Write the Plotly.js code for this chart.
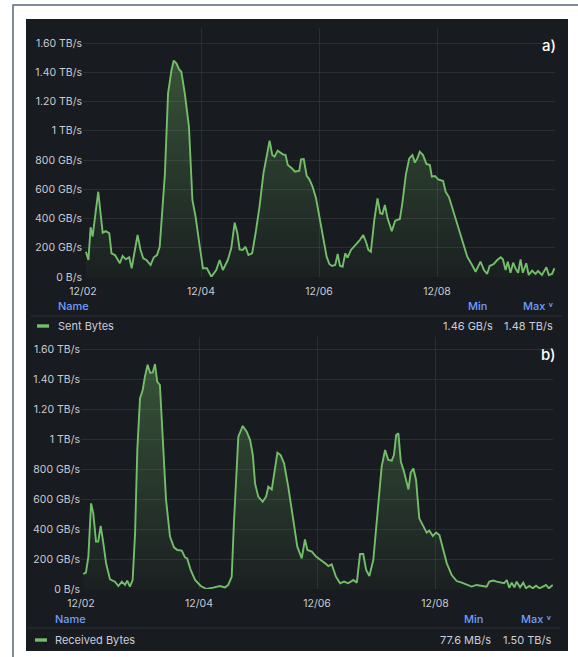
<!DOCTYPE html>
<html>
<head>
<meta charset="utf-8">
<script src="https://cdn.plot.ly/plotly-3.0.1.min.js"></script>
<style>
  html, body { margin: 0; padding: 0; background: #ffffff; }
  #chart { width: 578px; height: 657px; }
</style>
</head>
<body>
<div id="chart"></div>
<script>
// Network throughput over eight days, hours counted from 12/02 00:00, values in GB/s.
const hoursSent = [1.2,2.2,3.1,3.9,6.2,7.2,8.0,9.3,10.7,11.6,
  13.0,15.0,16.1,17.4,18.8,19.8,22.2,23.4,24.5,25.8,
  27.5,28.8,30.1,31.2,32.3,33.3,34.6,36.0,36.9,38.0,
  39.1,40.0,41.4,43.1,44.5,45.8,47.5,48.8,50.4,52.2,
  54.2,55.6,56.9,58.9,60.3,61.7,62.8,63.7,65.0,66.1,
  67.3,68.8,70.2,71.8,73.4,74.8,75.9,77.0,77.9,79.2,
  81.3,82.4,83.3,84.7,86.3,88.0,88.7,89.8,91.0,92.1,
  93.4,94.8,96.4,97.8,99.1,100.2,101.3,102.6,103.6,104.5,
  105.6,106.7,107.6,109.0,110.8,112.4,114.0,115.1,116.1,117.1,
  118.5,119.8,120.9,121.8,122.8,123.9,125.6,127.0,128.9,129.9,
  131.3,132.7,134.0,135.0,136.0,137.0,138.3,139.7,141.1,141.9,
  143.2,144.5,146.5,147.5,148.9,150.5,152.3,154.3,156.3,158.1,
  159.7,161.7,163.1,164.4,165.4,167.1,168.5,169.9,170.8,171.9,
  172.8,173.9,175.0,175.9,177.0,178.0,178.9,180.3,181.3,182.7,
  184.1,185.1,186.7,188.5,189.5,190.8,191.8];
const sentBytes = [173,116,340,276,583,437,303,314,299,162,
  150,94,144,121,135,60,287,185,128,116,
  82,135,150,207,504,700,1256,1415,1480,1461,
  1420,1404,1256,1028,527,412,207,60,60,1.46,
  48,116,48,116,196,371,299,189,185,207,
  150,162,299,481,709,823,932,834,823,864,
  839,834,766,747,720,727,805,807,691,668,
  617,538,390,253,139,89,75,82,157,77,
  70,162,132,185,219,248,287,241,185,173,
  390,538,436,431,492,401,314,385,397,504,
  697,811,834,782,811,857,834,773,766,686,
  691,668,656,583,545,458,367,265,139,87,
  36,105,48,21,75,89,116,135,121,48,
  105,29,98,60,29,121,29,94,14,43,
  21,41,14,66,14,21,60];

const hoursReceived = [0.9,2.0,3.0,4.1,5.0,6.1,7.0,8.0,9.1,10.2,
  11.8,13.8,15.2,16.6,17.9,18.8,19.9,21.0,22.0,22.9,
  24.0,25.1,26.0,27.1,28.1,29.2,30.1,31.0,32.1,33.2,
  34.6,36.2,37.8,39.2,41.0,42.3,43.2,44.6,46.4,48.7,
  51.1,53.8,56.5,58.6,59.9,61.3,62.2,64.0,65.8,67.4,
  68.8,69.9,70.8,72.1,73.9,75.3,76.2,77.6,79.9,81.2,
  82.6,84.3,86.4,88.0,89.8,91.1,92.1,93.9,95.6,97.2,
  99.3,100.6,102.0,103.7,105.4,107.0,108.7,110.8,112.2,113.5,
  114.8,116.0,117.3,118.9,120.5,122.3,123.7,125.0,126.4,127.3,
  128.2,129.1,130.1,131.4,133.2,134.1,135.2,136.3,137.6,139.3,
  140.6,141.7,143.1,144.4,145.8,147.2,148.8,150.8,152.8,154.9,
  156.9,158.9,160.9,163.0,165.0,166.1,167.7,169.1,170.8,172.1,
  173.2,174.2,175.2,176.3,177.2,178.6,179.9,181.0,182.4,183.8,
  185.1,186.5,187.9,189.2,190.3,191.9];
const receivedBytes = [100,109,216,571,504,316,316,420,304,171,
  64,49,20,49,27,56,16,60,371,927,
  1271,1327,1416,1495,1442,1444,1500,1382,1360,1016,
  593,349,278,260,256,211,204,127,60,20,
  0.0776,9,20,11,27,82,438,1016,1087,1049,
  993,893,704,616,582,616,682,664,909,893,
  838,682,460,282,204,331,260,249,216,198,
  171,153,164,82,38,49,38,60,42,233,
  233,127,87,193,482,816,927,860,856,893,
  1027,1038,849,782,664,776,804,727,471,416,
  376,389,353,376,360,271,171,93,53,42,
  27,16,27,22,16,49,56,49,42,38,
  60,8,42,11,49,11,42,5,20,5,
  22,5,16,27,5,27];

const dayTickHours = [0, 48, 96, 144];
const dayTickLabels = ['12/02', '12/04', '12/06', '12/08'];
const rateTickValues = [0, 200, 400, 600, 800, 1000, 1200, 1400, 1600];
const rateTickLabels = ['0 B/s', '200 GB/s', '400 GB/s', '600 GB/s', '800 GB/s',
  '1 TB/s', '1.20 TB/s', '1.40 TB/s', '1.60 TB/s'];
const seriesNames = ['Sent Bytes', 'Received Bytes'];
const panelTags = ['a)', 'b)'];

// Page geometry helpers: pixel positions on the 578 x 657 canvas to paper fractions.
const W = 578, H = 657;
const px = v => v / W;
const py = v => 1 - v / H;

// Byte-rate formatter for the legend statistics (input in GB/s).
function formatRate(gb) {
  if (gb >= 1000) return (gb / 1000).toFixed(2) + ' TB/s';
  if (gb >= 1) return gb.toPrecision(3) + ' GB/s';
  return (gb * 1000).toPrecision(3) + ' MB/s';
}

const green = '#73bf69';
const gridColor = 'rgba(204,204,220,0.10)';
const tickFont = { family: 'Inter, sans-serif', size: 10.5, color: '#cacbd4' };

function areaTrace(xs, ys, xa, ya) {
  return {
    x: xs, y: ys, xaxis: xa, yaxis: ya,
    type: 'scatter', mode: 'lines',
    line: { color: green, width: 1.9 },
    fill: 'tozeroy',
    fillgradient: {
      type: 'vertical',
      colorscale: [[0, 'rgba(115,191,105,0.03)'], [1, 'rgba(115,191,105,0.34)']]
    },
    hoverinfo: 'skip'
  };
}

const data = [
  areaTrace(hoursSent, sentBytes, 'x', 'y'),
  areaTrace(hoursReceived, receivedBytes, 'x2', 'y2')
];

function xAxis(domain, anchor) {
  return {
    domain: domain, anchor: anchor, range: [0, 192],
    tickmode: 'array', tickvals: dayTickHours, ticktext: dayTickLabels,
    showgrid: true, gridcolor: gridColor, gridwidth: 1,
    zeroline: false, showline: false,
    ticks: 'outside', ticklen: 4, tickcolor: 'rgba(0,0,0,0)',
    tickfont: tickFont, fixedrange: true
  };
}
function yAxis(domain, anchor, top) {
  return {
    domain: domain, anchor: anchor, range: [0, top],
    tickmode: 'array', tickvals: rateTickValues, ticktext: rateTickLabels,
    showgrid: true, gridcolor: gridColor, gridwidth: 1,
    zeroline: false, showline: false, ticks: '',
    tickfont: tickFont, fixedrange: true
  };
}

const panels = [
  { series: sentBytes, legendY: 326, headY: 306, sepY: 316, swatchX: 37, nameX: 56,
    minX: 495, maxX: 555, headMinX: 477, sepX0: 31, sepX1: 562, tagY: 45 },
  { series: receivedBytes, legendY: 640, headY: 619, sepY: 628, swatchX: 35, nameX: 53,
    minX: 493, maxX: 553, headMinX: 473, sepX0: 27, sepX1: 560, tagY: 354 }
];

const shapes = [
  // outer frame
  { type: 'rect', xref: 'paper', yref: 'paper', x0: px(13), x1: px(590), y0: py(5), y1: py(680),
    line: { color: '#56657a', width: 1.5 }, fillcolor: 'rgba(0,0,0,0)', layer: 'below' },
  // dark dashboard panel
  { type: 'rect', xref: 'paper', yref: 'paper', x0: px(26), x1: px(568), y0: py(19), y1: py(651),
    line: { width: 0 }, fillcolor: '#181b1f', layer: 'below' }
];
const annotations = [];
const blue = '#6e9fff';
const textGray = '#ccccdc';

panels.forEach((p, i) => {
  shapes.push({ type: 'line', xref: 'paper', yref: 'paper',
    x0: px(p.sepX0), x1: px(p.sepX1), y0: py(p.sepY), y1: py(p.sepY),
    line: { color: 'rgba(204,204,220,0.12)', width: 1 } });
  shapes.push({ type: 'rect', xref: 'paper', yref: 'paper',
    x0: px(p.swatchX), x1: px(p.swatchX + 12), y0: py(p.legendY - 1.7), y1: py(p.legendY + 1.7),
    line: { width: 0 }, fillcolor: green });

  const lo = Math.min(...p.series), hi = Math.max(...p.series);
  const ann = (text, x, y, anchor, color, size, weight) => annotations.push({
    xref: 'paper', yref: 'paper', x: px(x), y: py(y), xanchor: anchor, yanchor: 'middle',
    text: text, showarrow: false,
    font: { family: 'Inter, sans-serif', size: size, color: color, weight: weight }
  });
  ann('Name', p.nameX, p.headY, 'left', blue, 11, 500);
  ann('Min', p.headMinX, p.headY, 'center', blue, 11, 500);
  ann('Max \u02c5', p.maxX, p.headY, 'right', blue, 11, 500);
  ann(seriesNames[i], p.nameX, p.legendY, 'left', textGray, 11, 400);
  ann(formatRate(lo), p.minX, p.legendY, 'right', textGray, 11, 400);
  ann(formatRate(hi), p.maxX, p.legendY, 'right', textGray, 11, 400);
  ann(panelTags[i], 558, p.tagY, 'right', '#ffffff', 15, 500);
});

const layout = {
  width: W, height: H,
  margin: { l: 0, r: 0, t: 0, b: 0 },
  paper_bgcolor: '#ffffff',
  plot_bgcolor: 'rgba(0,0,0,0)',
  showlegend: false,
  font: { family: 'Inter, sans-serif', color: textGray },
  xaxis: xAxis([px(83), px(555)], 'y'),
  yaxis: yAxis([py(277), py(28.4)], 'x', 1700),
  xaxis2: xAxis([px(81), px(553)], 'y2'),
  yaxis2: yAxis([py(589), py(337)], 'x2', 1680),
  shapes: shapes,
  annotations: annotations
};

Plotly.newPlot('chart', data, layout, { staticPlot: true, displayModeBar: false });
</script>
</body>
</html>
